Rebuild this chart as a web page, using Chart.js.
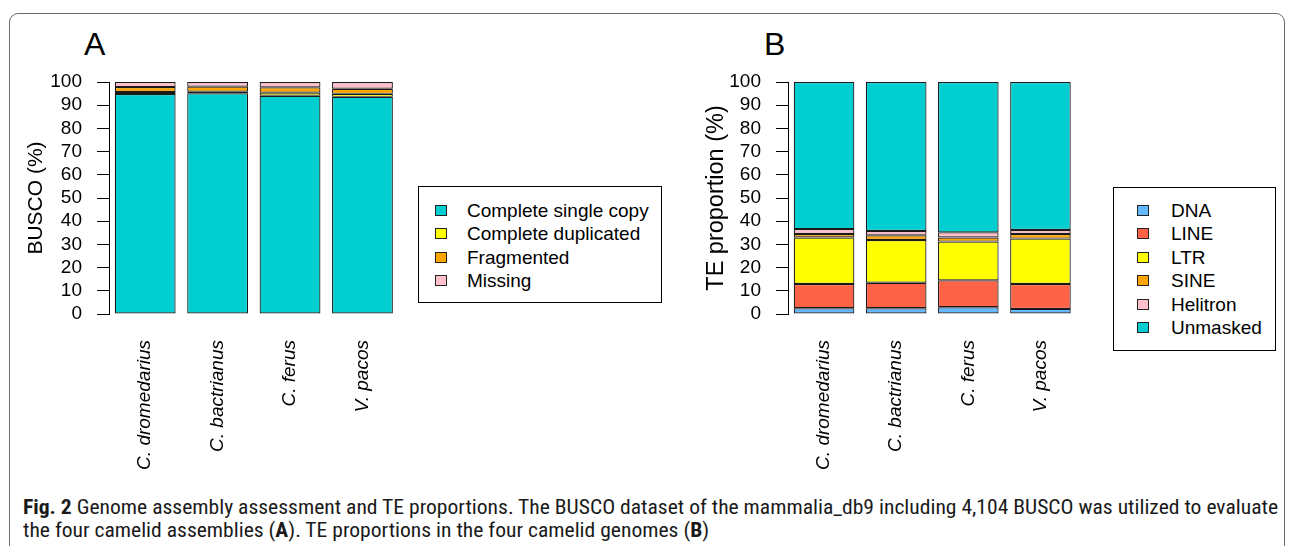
<!DOCTYPE html>
<html lang="en">
<head>
<meta charset="UTF-8">
<title>Genome assembly assessment and TE proportions</title>
<style>
  *{box-sizing:border-box;margin:0;padding:0}
  body{width:1293px;height:546px;background:#fff;position:relative;overflow:hidden;font-family:'Liberation Sans',Arial,sans-serif;color:#000}
  .frame{position:absolute;left:9px;top:13px;width:1276px;height:600px;border:1px solid #6b6b6b;border-radius:9px}
  .panel-letter{position:absolute;font-size:32px;line-height:1}
  canvas{position:absolute}
  .legend{position:absolute;border:1px solid #000;background:#fff}
  .legend .row{position:absolute;left:0;height:23px;line-height:23px;font-size:19px;white-space:nowrap}
  .legend .sw{position:absolute;top:6px;width:12px;height:11px;border:1px solid #222}
  .caption{position:absolute;left:23px;top:496px;font-family:'Liberation Sans Narrow','Roboto Condensed','Liberation Sans',sans-serif;font-size:20px;line-height:23px;color:#1a1a1a;white-space:nowrap;transform-origin:0 0}
</style>
</head>
<body>
<div class="frame"></div>
<div class="panel-letter" style="left:84px;top:28px">A</div>
<div class="panel-letter" style="left:764px;top:28px">B</div>
<canvas id="chartA" width="412" height="480" style="left:0;top:0"></canvas>
<canvas id="chartB" width="430" height="480" style="left:660px;top:0"></canvas>
<div class="legend" id="legendA" style="left:418px;top:186px;width:244px;height:117px"></div>
<div class="legend" id="legendB" style="left:1113px;top:187px;width:163px;height:164px"></div>
<div class="caption" id="caption">
  <div><b>Fig. 2</b> Genome assembly assessment and TE proportions. The BUSCO dataset of the mammalia_db9 including 4,104 BUSCO was utilized to evaluate</div>
  <div>the four camelid assemblies (<b>A</b>). TE proportions in the four camelid genomes (<b>B</b>)</div>
</div>

<script src="https://cdn.jsdelivr.net/npm/chart.js"></script>
<script>
  // species on the x axis (both panels)
  const species = ['C. dromedarius', 'C. bactrianus', 'C. ferus', 'V. pacos'];

  // panel A: BUSCO (%)
  const buscoLabels = ['Complete single copy', 'Complete duplicated', 'Fragmented', 'Missing'];
  const buscoSingle = [94.8, 95.1, 94.1, 93.6];
  const buscoDup = [0.9, 0.7, 1.3, 1.3];
  const buscoFrag = [2.1, 2.2, 2.3, 2.2];
  const buscoMissing = [2.2, 2.0, 2.3, 2.9];
  const buscoColors = ['#00CED1', '#FFFF00', '#FFA500', '#FFC0CB'];

  // panel B: TE proportion (%)
  const teLabels = ['DNA', 'LINE', 'LTR', 'SINE', 'Helitron', 'Unmasked'];
  const teDNA = [2.5, 2.5, 2.9, 2.2];
  const teLINE = [10.4, 11.0, 11.6, 10.7];
  const teLTR = [20.1, 18.4, 16.7, 19.6];
  const teSINE = [1.5, 2.0, 1.8, 2.0];
  const teHelitron = [2.1, 1.9, 2.2, 1.7];
  const teUnmasked = [63.4, 64.2, 64.8, 63.8];
  const teColors = ['#63B8FF', '#FF6347', '#FFFF00', '#FFA500', '#FFC0CB', '#00CED1'];

  const yTicks = [0, 10, 20, 30, 40, 50, 60, 70, 80, 90, 100];

  Chart.defaults.font.family = "'Liberation Sans', Arial, sans-serif";
  Chart.defaults.color = '#000';

  function makeDatasets(labels, series, colors) {
    return series.map((data, i) => ({
      label: labels[i], data,
      backgroundColor: colors[i],
      borderColor: '#1a1a1a', borderWidth: 1.2, borderSkipped: false,
      barPercentage: 0.84, categoryPercentage: 1
    }));
  }

  function makeChart(id, datasets, yTitle, titleSize, yWidth, titlePad, padRight) {
    const canvas = document.getElementById(id);
    return new Chart(canvas, {
      type: 'bar',
      data: { labels: species, datasets },
      options: {
        responsive: false, animation: false, devicePixelRatio: 1,
        layout: { padding: { top: 82, right: padRight, left: 0, bottom: 0 } },
        plugins: { legend: { display: false }, tooltip: { enabled: false } },
        scales: {
          x: {
            stacked: true,
            grid: { display: false, drawTicks: false },
            border: { display: false },
            ticks: { autoSkip: false, minRotation: 90, maxRotation: 90, padding: 26,
                     font: { size: 19, style: 'italic' } },
            afterFit: s => { s.height = canvas.height - 314; }
          },
          y: {
            stacked: true, min: 0, max: 100,
            afterBuildTicks: s => { s.ticks = yTicks.map(v => ({ value: v })); },
            grid: { drawOnChartArea: false, drawTicks: true, tickLength: 12, color: '#000', lineWidth: 1 },
            border: { display: true, color: '#000', width: 1 },
            ticks: { autoSkip: false, padding: 15, font: { size: 19 } },
            title: { display: true, text: yTitle, font: { size: titleSize }, padding: { top: titlePad, bottom: 0 } },
            afterFit: s => { s.width = yWidth; }
          }
        }
      }
    });
  }

  makeChart('chartA',
    makeDatasets(buscoLabels, [buscoSingle, buscoDup, buscoFrag, buscoMissing], buscoColors),
    'BUSCO (%)', 21, 109, 24, 6);
  makeChart('chartB',
    makeDatasets(teLabels, [teDNA, teLINE, teLTR, teSINE, teHelitron, teUnmasked], teColors),
    'TE proportion (%)', 23.5, 128, 42, 6);

  function buildLegend(id, labels, colors, swLeft, textLeft, firstTop) {
    const box = document.getElementById(id);
    labels.forEach((lab, i) => {
      const row = document.createElement('div');
      row.className = 'row';
      row.style.top = (firstTop + i * 23.4) + 'px';
      row.innerHTML = '<span class="sw" style="left:' + swLeft + 'px;background:' + colors[i] + '"></span>' +
                      '<span style="position:absolute;left:' + textLeft + 'px">' + lab + '</span>';
      box.appendChild(row);
    });
  }
  buildLegend('legendA', buscoLabels, buscoColors, 16, 48, 12);
  buildLegend('legendB', teLabels, teColors, 23, 57, 11);

  // fit caption to the reference line width
  const cap = document.getElementById('caption');
  const w = cap.firstElementChild.getBoundingClientRect().width;
  cap.style.transform = 'scaleX(' + (1255 / w) + ')';
</script>
</body>
</html>
